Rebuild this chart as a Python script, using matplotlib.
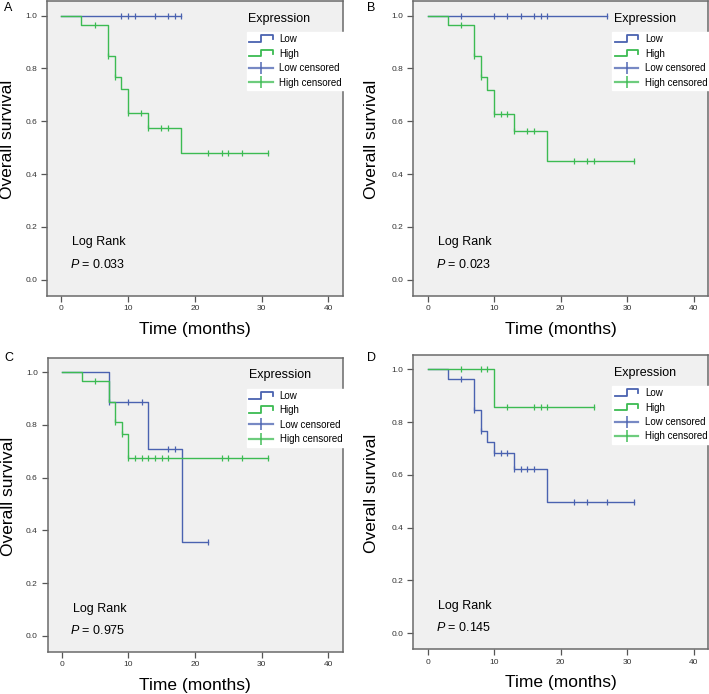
import numpy as np
import matplotlib
matplotlib.use('Agg')
from matplotlib import pyplot as plt
from matplotlib.lines import Line2D
from matplotlib.legend_handler import HandlerBase

plt.rcParams['font.family'] = ['Liberation Sans', 'DejaVu Sans']
plt.rcParams['mathtext.fontset'] = 'custom'
plt.rcParams['mathtext.it'] = 'Liberation Sans:italic'
plt.rcParams['mathtext.rm'] = 'Liberation Sans'

BLUE = '#4a62b0'
GREEN = '#3cbb52'

# ---- data (months, survival) ----
panel_letters = ['A', 'B', 'C', 'D']
p_values = ['0.033', '0.023', '0.975', '0.145']

# panel A
a_low_events = []
a_low_surv = []
a_low_censor = [9, 10, 11, 14, 16, 17, 18]
a_high_events = [3, 7, 8, 9, 10, 13, 18]
a_high_surv = [0.963, 0.846, 0.769, 0.723, 0.632, 0.575, 0.479]
a_high_censor = [5, 7, 8, 10, 12, 13, 15, 16, 22, 24, 25, 27, 31]

# panel B
b_low_events = []
b_low_surv = []
b_low_censor = [5, 10, 12, 14, 16, 17, 18, 27]
b_high_events = [3, 7, 8, 9, 10, 13, 18]
b_high_surv = [0.964, 0.846, 0.766, 0.720, 0.626, 0.562, 0.449]
b_high_censor = [5, 7, 8, 10, 11, 12, 13, 15, 16, 22, 24, 25, 31]

# panel C
c_low_events = [7, 13, 18]
c_low_surv = [0.888, 0.710, 0.355]
c_low_censor = [7, 10, 12, 16, 17, 22]
c_high_events = [3, 7, 8, 9, 10]
c_high_surv = [0.965, 0.887, 0.810, 0.765, 0.676]
c_high_censor = [5, 8, 9, 10, 11, 12, 13, 14, 15, 16, 24, 25, 27, 31]

# panel D
d_low_events = [3, 7, 8, 9, 10, 13, 18]
d_low_surv = [0.962, 0.847, 0.766, 0.724, 0.684, 0.621, 0.497]
d_low_censor = [5, 7, 8, 10, 11, 12, 13, 14, 15, 16, 22, 24, 27, 31]
d_high_events = [10]
d_high_surv = [0.858]
d_high_censor = [5, 8, 9, 12, 16, 17, 18, 25]

panels = [
    (a_low_events, a_low_surv, a_low_censor, a_high_events, a_high_surv, a_high_censor),
    (b_low_events, b_low_surv, b_low_censor, b_high_events, b_high_surv, b_high_censor),
    (c_low_events, c_low_surv, c_low_censor, c_high_events, c_high_surv, c_high_censor),
    (d_low_events, d_low_surv, d_low_censor, d_high_events, d_high_surv, d_high_censor),
]

# axes rectangles in figure fractions
positions = [
    [0.066, 0.574, 0.418, 0.4245],
    [0.583, 0.574, 0.416, 0.4245],
    [0.067, 0.061, 0.417, 0.4235],
    [0.583, 0.065, 0.416, 0.4235],
]
logrank_y = [(0.143, 0.059), (0.143, 0.059), (0.102, 0.022), (0.102, 0.020)]
ylabel_x = [-0.107, -0.118, -0.107, -0.118]
letter_xy = [(0.006, 0.9885), (0.518, 0.9885), (0.006, 0.484), (0.518, 0.484)]


class StepHandler(HandlerBase):
    # little step-shaped icon like SPSS draws
    def create_artists(self, legend, orig_handle, xdescent, ydescent,
                       width, height, fontsize, trans):
        x0, y0 = -xdescent, -ydescent
        xs = [x0, x0 + 0.5 * width, x0 + 0.5 * width, x0 + width, x0 + width]
        ys = [y0 + 0.05 * height, y0 + 0.05 * height, y0 + 1.05 * height,
              y0 + 1.05 * height, y0 + 0.45 * height]
        line = Line2D(xs, ys, color=orig_handle.get_color(), lw=1.3)
        line.set_transform(trans)
        return [line]


def km_curve(events, surv, censor):
    end = max(list(events) + list(censor))
    xs = np.array([0] + list(events) + [end], dtype=float)
    ys = np.array([1.0] + list(surv) + [surv[-1] if len(surv) else 1.0])
    c = np.array(censor, dtype=float)
    idx = np.searchsorted(xs, c, side='right') - 1
    return xs, ys, c, ys[idx]


fig = plt.figure(figsize=(7.09, 6.94), dpi=100)

for i, (le, ls, lc, he, hs, hc) in enumerate(panels):
    ax = fig.add_axes(positions[i])
    ax.set_facecolor('#f0f0f0')

    for ev, sv, cs, col, z in [(le, ls, lc, BLUE, 2), (he, hs, hc, GREEN, 3)]:
        xs, ys, cx, cy = km_curve(ev, sv, cs)
        ax.step(xs, ys, where='post', color=col, lw=1.0, zorder=z)
        ax.plot(cx, cy, ls='none', marker='|', ms=4.5, mew=0.9, color=col, zorder=z)

    ax.set_xlim(-2.15, 42.2)
    ax.set_ylim(-0.06, 1.055)
    ax.set_xticks([0, 10, 20, 30, 40])
    ax.set_yticks([0.0, 0.2, 0.4, 0.6, 0.8, 1.0])
    ax.set_yticklabels(['%.1f' % v for v in [0.0, 0.2, 0.4, 0.6, 0.8, 1.0]])
    ax.tick_params(labelsize=6, length=4, width=0.9, color='#555555',
                   labelcolor='#333333', pad=3)
    for s in ax.spines.values():
        s.set_color('#6a6a6a')
        s.set_linewidth(1.1)

    ax.set_xlabel('Time (months)', fontsize=12.5, labelpad=7)
    ax.set_ylabel('Overall survival', fontsize=12.5)
    ax.yaxis.set_label_coords(ylabel_x[i], 0.53)

    ly1, ly2 = logrank_y[i]
    ax.text(1.6, ly1, 'Log Rank', fontsize=9, va='center', ha='left')
    ax.text(1.25, ly2, '$P$ = ' + p_values[i], fontsize=9, va='center', ha='left')

    ax.text(0.68, 0.94, 'Expression', transform=ax.transAxes, fontsize=9,
            va='center', ha='left')
    h_low = Line2D([], [], color=BLUE)
    h_high = Line2D([], [], color=GREEN)
    h_lowc = Line2D([], [], color=BLUE, lw=1.6, alpha=0.75, marker='|', ms=9, mew=1.4)
    h_highc = Line2D([], [], color=GREEN, lw=1.6, alpha=0.75, marker='|', ms=9, mew=1.4)
    ax.legend([h_low, h_high, h_lowc, h_highc],
              ['Low', 'High', 'Low censored', 'High censored'],
              handler_map={h_low: StepHandler(), h_high: StepHandler()},
              loc='upper left', bbox_to_anchor=(0.675, 0.895),
              fontsize=7, frameon=True, fancybox=False, framealpha=1,
              facecolor='white', edgecolor='white', handlelength=2.4,
              handletextpad=0.7, labelspacing=0.45, borderpad=0.25,
              borderaxespad=0)

    fig.text(letter_xy[i][0], letter_xy[i][1], panel_letters[i], fontsize=9,
             ha='left', va='center')

fig.savefig('out.png', dpi=100, facecolor='white')
